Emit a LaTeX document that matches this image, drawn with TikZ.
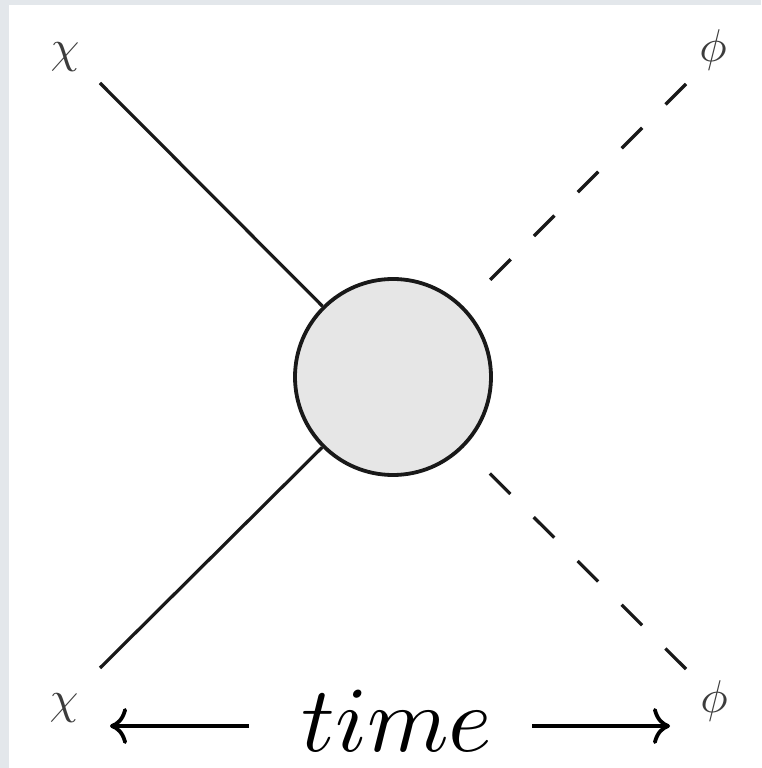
\documentclass[tikz,border=0pt]{standalone}
\usetikzlibrary{arrows.meta}
\definecolor{framegray}{HTML}{E3E7EB}
\definecolor{blobgray}{HTML}{E6E6E6}
\definecolor{labelgray}{HTML}{3C3C3C}
\tikzset{
  fermion/.style={line width=3.2pt, draw=black!90},
  scalar/.style={line width=3.2pt, draw=black!90, dash pattern=on 29pt off 33pt, shorten >=34pt},
  blob/.style={circle, minimum size=196pt, inner sep=0pt, fill=blobgray, draw=black!90, line width=3.8pt},
  plabel/.style={inner sep=0pt, text=labelgray, scale=4.6},
  timelabel/.style={inner sep=0pt, anchor=base, scale=9.3},
  timearrow/.style={line width=3.8pt, arrows={-{Computer Modern Rightarrow[length=17pt,width=36pt,line width=3.8pt]}}}
}
\begin{document}
\begin{tikzpicture}[x=1pt,y=1pt]
  \useasboundingbox (0,0) rectangle (761,768);
  \fill[framegray] (0,0) rectangle (761,768);
  \fill[white] (9,0) rectangle (761,763);
  % endpoints
  \coordinate (tl) at (100,685);
  \coordinate (bl) at (100,100);
  \coordinate (tr) at (686,684);
  \coordinate (br) at (686,99);
  \node[blob] (c) at (393,391) {};
  \draw[fermion] (tl) -- (c);
  \draw[fermion] (bl) -- (c);
  \draw[scalar] (tr) -- (c);
  \draw[scalar] (br) -- (c);
  % labels
  \node[plabel] (chiTL) at (65,711) {$\chi$};
  \node[plabel] (chiBL) at (64,60) {$\chi$};
  \node[plabel] (phiTR) at (713,718) {$\phi$};
  \node[plabel] (phiBR) at (714,67) {$\phi$};
  % time
  \node[timelabel] (time) at (397,17) {$time$};
  \coordinate (la1) at (249,42);
  \coordinate (la2) at (110,42);
  \coordinate (ra1) at (532,42);
  \coordinate (ra2) at (670,42);
  \draw[timearrow] (la1) -- (la2);
  \draw[timearrow] (ra1) -- (ra2);
\end{tikzpicture}
\end{document}
